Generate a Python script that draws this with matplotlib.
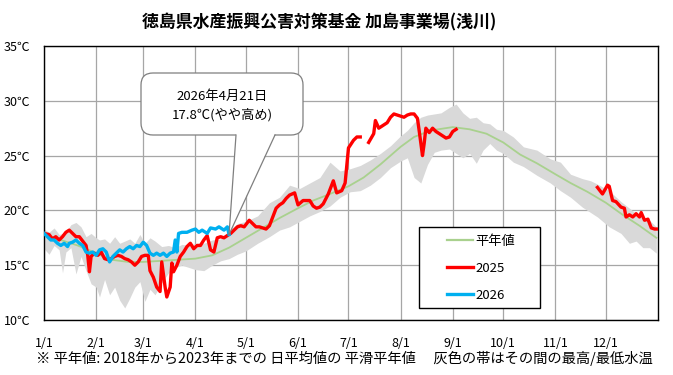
import numpy as np
import matplotlib
matplotlib.use("Agg")
import matplotlib.pyplot as plt
from matplotlib.patches import FancyBboxPatch, Polygon, Rectangle
from matplotlib.lines import Line2D
from matplotlib.transforms import IdentityTransform

plt.rcParams['font.family'] = ['Noto Sans CJK JP', 'DejaVu Sans']

# ---------------- data ----------------
title = "徳島県水産振興公害対策基金 加島事業場(浅川)"
month_days = [0, 31, 59, 90, 120, 151, 181, 212, 243, 273, 304, 334]
month_labels = ["1/1", "2/1", "3/1", "4/1", "5/1", "6/1", "7/1", "8/1", "9/1", "10/1", "11/1", "12/1"]
y_ticks = [10, 15, 20, 25, 30, 35]
y_labels = ["10℃", "15℃", "20℃", "25℃", "30℃", "35℃"]

normal_days = [0, 10, 20, 31, 40, 50, 59, 70, 80, 90, 100, 110, 120, 130, 140, 151, 160, 170,
               181, 190, 200, 212, 220, 230, 243, 253, 263, 273, 283, 293, 304, 313, 323, 334,
               344, 354, 364]
normal_vals = [17.8, 17.3, 16.8, 16.1, 15.5, 15.3, 15.3, 15.4, 15.5, 15.6, 15.9, 16.6, 17.5, 18.4,
               19.3, 20.2, 20.9, 21.5, 22.2, 23.0, 24.2, 25.8, 26.7, 27.3, 27.6, 27.4, 27.0, 26.2,
               25.1, 24.3, 23.3, 22.5, 21.7, 20.7, 19.6, 18.6, 17.5]

band_days = [0, 3, 6, 9, 11, 13, 16, 19, 22, 25, 28, 31, 33, 36, 39, 42, 45, 48, 51, 54, 57, 60,
             63, 66, 70, 74, 78, 82, 86, 90, 95, 100, 105, 110, 115, 120, 127, 134, 140, 146, 152,
             158, 164, 170, 176, 182, 188, 194, 200, 206, 212, 216, 220, 224, 228, 232, 236, 241,
             245, 249, 253, 257, 261, 265, 269, 273, 279, 285, 293, 301, 307, 313, 320, 325, 329,
             336, 343, 348, 352, 356, 360, 364]
band_upper = [18.3, 18.0, 18.4, 17.8, 17.9, 18.0, 18.7, 18.9, 18.5, 17.6, 17.9, 17.5, 17.3, 17.4,
              17.0, 17.6, 17.0, 17.2, 17.4, 17.0, 17.8, 17.0, 17.5, 17.2, 16.7, 16.8, 16.6, 16.9,
              16.8, 17.0, 17.0, 17.3, 17.4, 18.2, 18.8, 19.0, 19.5, 20.7, 21.2, 22.3, 22.0, 22.5,
              23.0, 24.4, 23.6, 23.8, 24.1, 24.6, 25.2, 25.9, 26.8, 27.3, 28.0, 28.5, 28.7, 28.8,
              28.9, 29.4, 29.7, 28.9, 28.4, 28.5, 28.0, 27.9, 27.4, 27.3, 26.7, 25.8, 25.5, 24.7,
              24.4, 23.3, 22.9, 22.7, 22.4, 21.8, 20.8, 20.2, 19.7, 19.4, 19.1, 18.5]
band_lower = [16.5, 16.0, 16.8, 16.4, 14.3, 16.2, 16.6, 14.2, 15.8, 14.5, 13.3, 13.0, 12.1, 13.7,
              12.3, 13.0, 11.8, 11.1, 12.0, 13.0, 13.5, 11.7, 12.8, 12.3, 13.4, 14.3, 14.8, 15.0,
              14.8, 14.6, 14.5, 15.0, 15.4, 15.6, 16.0, 16.3, 17.0, 17.6, 18.2, 18.5, 19.0, 19.5,
              19.9, 20.4, 21.2, 21.7, 21.8, 22.3, 23.0, 23.9, 24.5, 24.8, 23.0, 22.5, 24.2, 25.3,
              25.5, 25.6, 25.2, 24.8, 25.2, 24.3, 25.5, 26.1, 25.5, 25.2, 24.4, 24.0, 23.2, 22.5,
              21.8, 21.2, 20.3, 19.8, 19.4, 18.5, 17.9, 17.0, 17.2, 16.6, 16.6, 16.1]

y2025_days = [0, 3, 5, 7, 9, 11, 13, 15, 17, 19, 21, 23, 25, 26, 27, 28, 30, 32, 34, 36, 38, 40,
              42, 44, 46, 48, 50, 52, 54, 56, 58, 60, 62, 63, 65, 67, 69, 70, 72, 73, 75, 76, 77,
              79, 81, 83, 85, 87, 89, 91, 93, 95, 97, 99, 101, 103, 105, 107, 109, 111, 113, 115,
              117, 119, 122, 124, 126, 128, 130, 132, 134, 136, 138, 140, 142, 144, 146, 149, 151,
              154, 156, 158, 160, 162, 164, 166, 169, 172, 174, 177, 179, 181, 184, 186, 188, 190,
              193, 196, 197, 199, 201, 204, 206, 208, 210, 212, 214, 216, 218, 220, 222, 223, 225,
              226, 227, 229, 231, 233, 235, 237, 239, 241, 243, 245, 280,
              329, 332, 335, 336, 338, 340, 343, 345, 346, 348, 350, 352, 354, 355, 357, 359, 361,
              363, 364]
y2025_vals = [17.9, 17.8, 17.4, 17.6, 17.3, 17.6, 18.0, 18.2, 17.9, 17.6, 17.6, 17.2, 16.8, 15.9,
              14.4, 15.8, 16.1, 15.9, 16.2, 15.6, 15.5, 15.6, 15.8, 15.9, 15.8, 15.6, 15.5, 15.3,
              15.0, 15.3, 15.8, 15.9, 15.9, 14.5, 13.9, 13.0, 12.6, 15.3, 13.0, 12.1, 13.0, 15.2,
              14.4, 15.0, 15.8, 16.2, 16.7, 17.0, 16.5, 16.8, 16.8, 17.3, 17.7, 16.4, 16.2, 17.5,
              17.6, 17.5, 17.7, 17.9, 18.2, 18.5, 18.6, 18.5, 19.1, 18.8, 18.5, 18.5, 18.4, 18.3,
              18.6, 19.4, 20.2, 20.5, 20.7, 21.1, 21.4, 21.6, 20.5, 20.9, 20.9, 20.9, 20.4, 20.2,
              20.3, 20.6, 21.5, 22.7, 21.6, 21.8, 22.5, 25.7, 26.4, 26.7, 26.7, np.nan,
              26.2, 27.0, 28.2, 27.5, 27.7, 28.0, 28.5, 28.8, 28.7, 28.6, 28.5, 28.7, 28.8, 28.8,
              28.4, 27.3, 25.0, 26.1, 27.5, 27.1, 27.5, 27.2, 27.0, 26.8, 26.6, 26.7, 27.2, 27.4,
              np.nan,
              22.1, 21.5, 22.3, 22.2, 20.9, 20.8, 20.3, 20.2, 19.4, 19.6, 19.4, 19.7, 19.4, 19.8,
              19.1, 19.2, 18.4, 18.3, 18.3]

y2026_days = [0, 2, 4, 6, 8, 10, 12, 14, 15, 17, 19, 21, 23, 25, 27, 29, 31, 33, 35, 37, 39, 41,
              43, 45, 47, 49, 51, 53, 55, 57, 59, 61, 63, 65, 67, 69, 71, 73, 75, 77, 78, 79, 80,
              82, 85, 88, 90, 92, 94, 96, 97, 99, 102, 104, 107, 109, 110]
y2026_vals = [17.9, 17.6, 17.3, 17.3, 17.0, 16.8, 17.0, 16.7, 17.0, 17.1, 17.3, 17.0, 16.8, 16.2,
              16.1, 16.2, 15.9, 16.4, 16.5, 16.2, 15.3, 15.8, 16.1, 16.4, 16.2, 16.5, 16.7, 16.5,
              16.8, 16.7, 17.1, 16.8, 16.1, 15.9, 16.1, 15.9, 16.1, 15.8, 16.1, 16.2, 17.3, 16.2,
              17.9, 18.0, 18.0, 18.2, 18.3, 18.0, 18.2, 18.0, 17.9, 18.4, 18.3, 18.5, 18.2, 18.5,
              17.8]

callout_lines = ["2026年4月21日", "17.8℃(やや高め)"]
footnote = "※ 平年値: 2018年から2023年までの 日平均値の 平滑平年値　 灰色の帯はその間の最高/最低水温"

# ---------------- figure ----------------
W, H = 673, 375
fig = plt.figure(figsize=(W / 100, H / 100), dpi=100)
fig.patch.set_facecolor("white")
ax = fig.add_axes([44 / W, (H - 320) / H, 614 / W, 274 / H])

ax.fill_between(band_days, band_lower, band_upper, color="#d9d9d9", lw=0, zorder=1)
ax.plot(normal_days, normal_vals, color="#a9d18e", lw=1.3, zorder=2, label="平年値")
ax.plot(y2025_days, y2025_vals, color="#ff0000", lw=2.4, zorder=3, label="2025",
        solid_joinstyle="round")
ax.plot(y2026_days, y2026_vals, color="#00b0f0", lw=2.4, zorder=4, label="2026",
        solid_joinstyle="round")

ax.set_xlim(0, 365)
ax.set_ylim(10, 35)
ax.set_xticks(month_days)
ax.set_xticklabels(month_labels, fontsize=9)
ax.set_yticks(y_ticks)
ax.set_yticklabels(y_labels, fontsize=9)
ax.tick_params(axis="both", length=0)
ax.tick_params(axis="x", pad=12)
ax.tick_params(axis="y", pad=10)
ax.grid(True, color="#a6a6a6", lw=0.9)
ax.set_axisbelow(True)
for s in ax.spines.values():
    s.set_color("black")
    s.set_linewidth(1.0)

# legend frame (fixed size like the reference) + frameless legend inside
frame = Rectangle(((419 - 44) / 614, (320 - 308) / 274), 121 / 614, 81 / 274,
                  transform=ax.transAxes, facecolor="white", edgecolor="black", lw=1.0,
                  zorder=5, clip_on=False)
ax.add_patch(frame)
leg = ax.legend(loc="upper left", bbox_to_anchor=((447 - 44) / 614, (320 - 235) / 274),
                fontsize=9.5, frameon=False, handlelength=2.0, labelspacing=1.05,
                borderpad=0, handletextpad=0.15, borderaxespad=0)
leg.set_zorder(6)
for h in leg.get_lines():
    h.set_linewidth(2.4 if h.get_label() != "平年値" else 1.6)

fig.text(319 / W, 1 - 22 / H, title, ha="center", va="center", fontsize=12.2, fontweight="bold")
fig.text(344 / W, 1 - 358 / H, footnote, ha="center", va="center", fontsize=10.3)

# ---------------- callout ----------------
fig.canvas.draw()
tip = ax.transData.transform((y2026_days[-1], y2026_vals[-1]))
idt = IdentityTransform()
bx0, by0, bx1, by1 = 141, 73, 303, 135  # pixel box (top-origin)
box = FancyBboxPatch((bx0, H - by1), bx1 - bx0, by1 - by0,
                     boxstyle="round,pad=0,rounding_size=12", transform=idt,
                     facecolor="white", edgecolor="#7f7f7f", lw=0.9, zorder=20, clip_on=False)
fig.patches.append(box)
wedge = Polygon([(236, H - by1 + 1.5), (275, H - by1 + 1.5), (tip[0], tip[1])], closed=True,
                transform=idt, facecolor="white", edgecolor="none", zorder=21, clip_on=False)
fig.patches.append(wedge)
for x0 in (236, 275):
    fig.lines.append(Line2D([x0, tip[0]], [H - by1, tip[1]], transform=idt, color="#7f7f7f",
                            lw=0.9, zorder=22))
fig.text(222 / W, 1 - 96 / H, callout_lines[0], ha="center", va="center", fontsize=9.5, zorder=23)
fig.text(222 / W, 1 - 115 / H, callout_lines[1], ha="center", va="center", fontsize=9.5, zorder=23)

fig.savefig("out.png", dpi=100)
